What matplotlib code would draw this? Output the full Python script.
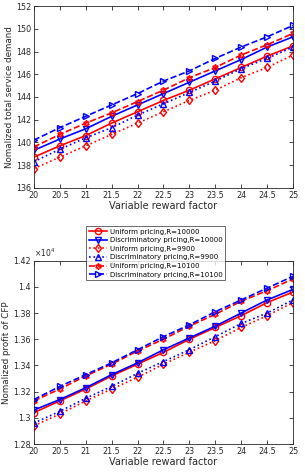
import numpy as np
import matplotlib
matplotlib.use("Agg")
import matplotlib.pyplot as plt
from matplotlib.ticker import FuncFormatter

# variable reward factor
reward = [20, 20.5, 21, 21.5, 22, 22.5, 23, 23.5, 24, 24.5, 25]

# normalized total service demand
demand_uni_10000 = [138.7, 139.7, 140.6, 141.7, 142.7, 143.7, 144.6, 145.6, 146.6, 147.6, 148.5]
demand_dis_10000 = [139.3, 140.3, 141.2, 142.3, 143.3, 144.3, 145.3, 146.3, 147.3, 148.4, 149.3]
demand_uni_9900 = [137.7, 138.7, 139.7, 140.7, 141.7, 142.7, 143.7, 144.6, 145.7, 146.6, 147.7]
demand_dis_9900 = [138.3, 139.4, 140.4, 141.3, 142.4, 143.4, 144.4, 145.4, 146.5, 147.4, 148.4]
demand_uni_10100 = [139.6, 140.7, 141.7, 142.6, 143.6, 144.6, 145.7, 146.6, 147.7, 148.6, 149.6]
demand_dis_10100 = [140.2, 141.3, 142.3, 143.3, 144.3, 145.4, 146.3, 147.4, 148.4, 149.3, 150.3]

# normalized profit of CFP (x 1e4)
profit_uni_10000 = [1.304, 1.313, 1.322, 1.332, 1.341, 1.350, 1.360, 1.369, 1.378, 1.388, 1.396]
profit_dis_10000 = [1.306, 1.314, 1.323, 1.333, 1.342, 1.352, 1.361, 1.370, 1.380, 1.390, 1.398]
profit_uni_9900 = [1.294, 1.303, 1.313, 1.322, 1.331, 1.341, 1.350, 1.359, 1.369, 1.378, 1.388]
profit_dis_9900 = [1.296, 1.305, 1.315, 1.324, 1.334, 1.343, 1.352, 1.362, 1.372, 1.380, 1.390]
profit_uni_10100 = [1.313, 1.322, 1.332, 1.341, 1.351, 1.360, 1.370, 1.379, 1.389, 1.397, 1.406]
profit_dis_10100 = [1.314, 1.324, 1.333, 1.342, 1.352, 1.362, 1.371, 1.381, 1.390, 1.399, 1.408]

labels = ["Uniform pricing,R=10000", "Discriminatory pricing,R=10000",
          "Uniform pricing,R=9900", "Discriminatory pricing,R=9900",
          "Uniform pricing,R=10100", "Discriminatory pricing,R=10100"]

styles = [("r", "-", "o"), ("b", "-", "v"), ("r", ":", "d"),
          ("b", ":", "^"), ("r", "--", (6, 1, 0)), ("b", "--", ">")]

plt.rcParams["font.family"] = "DejaVu Sans"
plt.rcParams["font.size"] = 6

fig = plt.figure(figsize=(3.05, 4.72), dpi=100)
ax1 = fig.add_axes([0.111, 0.602, 0.850, 0.385])
ax2 = fig.add_axes([0.111, 0.059, 0.850, 0.389])


def draw(ax, series):
    handles = []
    for ys, (c, ls, m) in zip(series, styles):
        h, = ax.plot(reward, ys, color=c, ls=ls, marker=m, lw=1.2, ms=4.5,
                     mfc="none", mew=1.0)
        handles.append(h)
    ax.set_xlim(20, 25)
    ax.set_xticks(reward)
    ax.xaxis.set_major_formatter(FuncFormatter(lambda v, p: "%g" % v))
    ax.tick_params(direction="in", top=True, right=True, length=3,
                   width=0.6, colors="#262626", labelsize=5.8, pad=2)
    for s in ax.spines.values():
        s.set_linewidth(0.6)
        s.set_color("#262626")
    ax.set_xlabel("Variable reward factor", fontsize=7, labelpad=1, color="#262626")
    return handles


draw(ax1, [demand_uni_10000, demand_dis_10000, demand_uni_9900,
           demand_dis_9900, demand_uni_10100, demand_dis_10100])
ax1.set_ylim(136, 152)
ax1.set_yticks(np.arange(136, 153, 2))
ax1.set_ylabel("Nomalized total service demand", fontsize=6.3, labelpad=1.5, color="#262626")

handles = draw(ax2, [profit_uni_10000, profit_dis_10000, profit_uni_9900,
                     profit_dis_9900, profit_uni_10100, profit_dis_10100])
ax2.set_ylim(1.28, 1.42)
ax2.set_yticks(np.arange(1.28, 1.421, 0.02))
ax2.yaxis.set_major_formatter(FuncFormatter(lambda v, p: "%g" % round(v, 2)))
ax2.set_ylabel("Nomalized profit of CFP", fontsize=6.3, labelpad=1.5, color="#262626")
ax2.text(0.0, 1.01, r"$\times10^4$", transform=ax2.transAxes, fontsize=5.5,
         ha="left", va="bottom", color="#262626")

leg = fig.legend(handles, labels, loc="upper center", bbox_to_anchor=(0.51, 0.521),
                 fontsize=5.0, frameon=True, fancybox=False, edgecolor="#262626",
                 handlelength=2.6, borderpad=0.35, labelspacing=0.38,
                 handletextpad=0.4, borderaxespad=0)
leg.get_frame().set_linewidth(0.6)

fig.savefig("out.png", dpi=100)
